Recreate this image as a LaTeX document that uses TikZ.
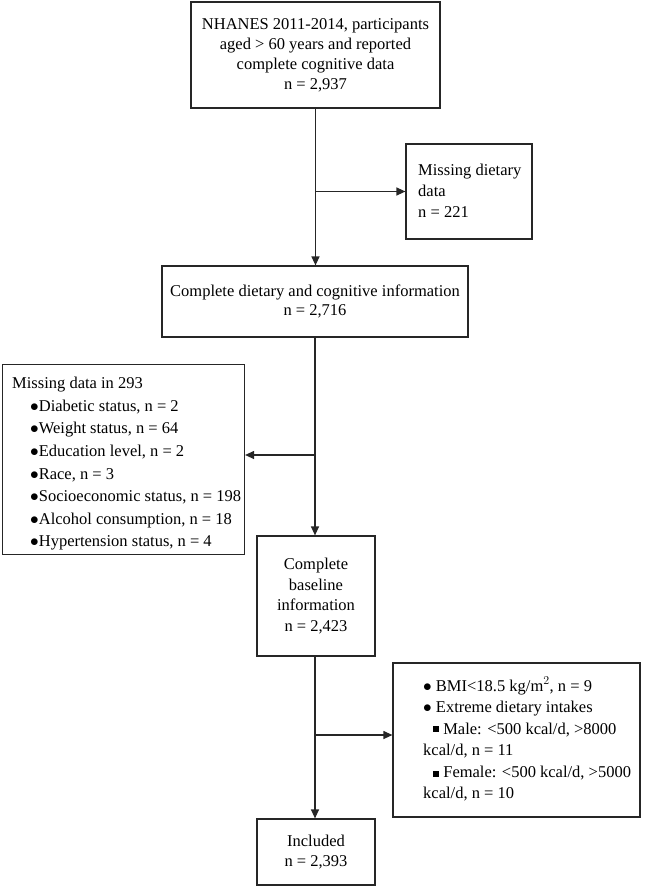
\documentclass[tikz,border=0pt]{standalone}
\usepackage{fontspec}
\setmainfont{Liberation Serif}
\usetikzlibrary{arrows.meta,calc}
\begin{document}
\begin{tikzpicture}[x=1pt,y=-1pt,
  box/.style={draw=black!85,line width=1.2pt,inner sep=0pt,align=center,font=\fontsize{16.5}{20}\selectfont},
  txt/.style={inner sep=0pt,align=left,anchor=north west,font=\fontsize{16.5}{22.6}\selectfont},
  arr/.style={draw=black!85,line width=1.2pt,-{Triangle[length=9pt,width=8pt]}}]
\useasboundingbox (0,0) rectangle (647,886);
\node[box,minimum width=249pt,minimum height=106pt] (b1) at (315.5,55)
  {NHANES 2011-2014, participants\\aged > 60 years and reported\\complete cognitive data\\n = 2,937};
\node[box,minimum width=126pt,minimum height=95pt] (m1) at (469,191.5) {};
\node[txt,font=\fontsize{16.5}{21}\selectfont] (m1t) at (418,164) {Missing dietary\\data\\n = 221};
\node[box,minimum width=306pt,minimum height=71pt,font=\fontsize{16.5}{18.5}\selectfont] (b2) at (315,301.5)
  {Complete dietary and cognitive information\\n = 2,716};
\node[box,minimum width=242pt,minimum height=190pt] (m2) at (123.5,459.5) {};
\node[txt] (m2t) at (12,377) {Missing data in 293\\
  \hspace*{18pt}$\bullet$Diabetic status, n = 2\\
  \hspace*{18pt}$\bullet$Weight status, n = 64\\
  \hspace*{18pt}$\bullet$Education level, n = 2\\
  \hspace*{18pt}$\bullet$Race, n = 3\\
  \hspace*{18pt}$\bullet$Socioeconomic status, n = 198\\
  \hspace*{18pt}$\bullet$Alcohol consumption, n = 18\\
  \hspace*{18pt}$\bullet$Hypertension status, n = 4};
\node[box,minimum width=118pt,minimum height=120pt,font=\fontsize{16.5}{20.7}\selectfont] (b3) at (316,596)
  {Complete\\baseline\\information\\n = 2,423};
\node[box,minimum width=247pt,minimum height=154pt] (ex) at (516.5,740) {};
\node[txt,font=\fontsize{16.5}{21.5}\selectfont] (ext) at (423,677) {%
  $\bullet$ BMI<18.5 kg/m$^2$, n = 9\\
  $\bullet$ Extreme dietary intakes\\
  \hspace*{10pt}\rule[2pt]{6pt}{6pt} Male: <500 kcal/d, >8000\\
  kcal/d, n = 11\\
  \hspace*{10pt}\rule[0pt]{6pt}{6pt} Female: <500 kcal/d, >5000\\
  kcal/d, n = 10};
\node[box,minimum width=118pt,minimum height=66pt] (b4) at (316,852)
  {Included\\n = 2,393};
% connectors
\coordinate (j1) at (315,191.5);
\coordinate (j2) at (315,455);
\coordinate (j3) at (315,735);
\draw[arr] (b1.south) -- (b1.south |- b2.north);
\draw[arr] (j1) -- (m1.west);
\draw[arr] (b2.south -| j2) -- (j2 |- b3.north);
\draw[arr] (j2) -- (j2 -| m2.east);
\draw[arr] (b3.south -| j3) -- (j3 |- b4.north);
\draw[arr] (j3) -- (j3 -| ex.west);
\end{tikzpicture}
\end{document}
